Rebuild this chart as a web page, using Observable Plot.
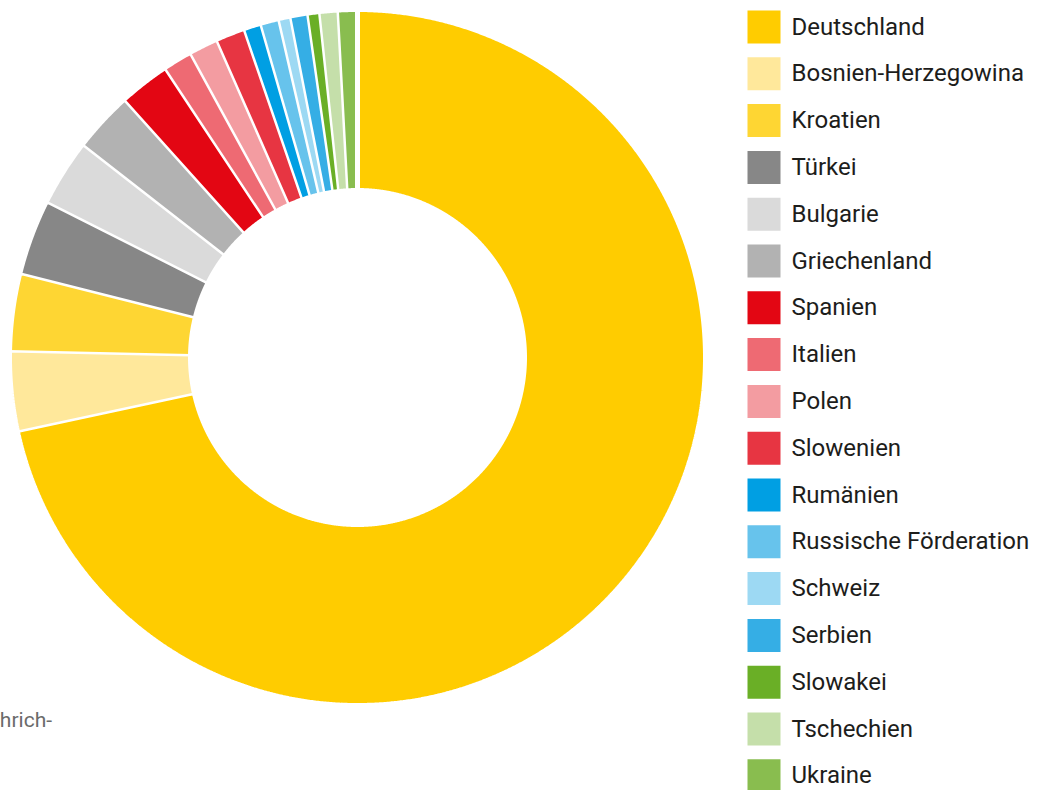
<!DOCTYPE html>
<html>
<head>
<meta charset="utf-8">
<script src="https://cdn.jsdelivr.net/npm/d3@7"></script>
<script src="https://cdn.jsdelivr.net/npm/@observablehq/plot@0.6"></script>
<style>
  html, body { margin: 0; padding: 0; background: #fff; overflow: hidden; }
  #wrap { position: relative; width: 1047px; height: 790px; }
  #donut { position: absolute; left: 0; top: 0; }
  #legend { position: absolute; left: 740px; top: 0; }
  #note { position: absolute; right: 995px; top: 710px; font: 21px Roboto, sans-serif; line-height: 21px; color: #6b6b6b; white-space: nowrap; }
  svg { display: block; }
</style>
</head>
<body>
<div id="wrap">
  <div id="donut"></div>
  <div id="legend"></div>
  <div id="note">hrich-</div>
</div>
<script>
// Data (shares in %)
const countries = ["Deutschland", "Bosnien-Herzegowina", "Kroatien", "Türkei", "Bulgarie", "Griechenland",
  "Spanien", "Italien", "Polen", "Slowenien", "Rumänien", "Russische Förderation", "Schweiz",
  "Serbien", "Slowakei", "Tschechien", "Ukraine"];
const shares = [71.6, 3.7, 3.6, 3.5, 3.1, 2.8, 2.35, 1.35, 1.35, 1.35, 0.8, 0.85, 0.55, 0.8, 0.55, 0.85, 0.85];
const colors = ["#FFCC00", "#FFE89B", "#FED633", "#878787", "#DADADA", "#B2B2B2",
  "#E30613", "#EE6A73", "#F39CA1", "#E73542", "#009FE3", "#67C3EC", "#9DD9F3",
  "#35AEE5", "#6AAF26", "#C5DFAA", "#89BD4F"];

const rows = countries.map((name, i) => ({name, value: shares[i], rank: i}));
const colorScale = {domain: countries, range: colors};

// Build donut slice outlines from the pie layout (unit radius coordinates)
const pie = d3.pie().value(d => d.value).sort(null);
const arcs = pie(rows);
const rOuter = 348 / 345, rInner = 167 / 345;
const pts = [];
for (const a of arcs) {
  const n = Math.max(2, Math.ceil((a.endAngle - a.startAngle) / (Math.PI / 720)));
  const name = a.data.name;
  for (let k = 0; k <= n; k++) {
    const t = a.startAngle + (a.endAngle - a.startAngle) * k / n;
    pts.push({name, x: rOuter * Math.sin(t), y: rOuter * Math.cos(t)});
  }
  for (let k = n; k >= 0; k--) {
    const t = a.startAngle + (a.endAngle - a.startAngle) * k / n;
    pts.push({name, x: rInner * Math.sin(t), y: rInner * Math.cos(t)});
  }
}

const donut = Plot.plot({
  width: 714, height: 714,
  marginLeft: 12, marginRight: 12, marginTop: 12, marginBottom: 12,
  x: {domain: [-1, 1], axis: null},
  y: {domain: [-1, 1], axis: null},
  color: colorScale,
  marks: [
    Plot.line(pts, {x: "x", y: "y", z: "name", fill: "name", stroke: "white", strokeWidth: 5, strokeLinejoin: "miter", curve: "linear"})
  ]
});
document.getElementById("donut").append(donut);

const legend = Plot.plot({
  width: 307, height: 790,
  marginLeft: 0, marginRight: 0, marginTop: 0, marginBottom: 0,
  style: {fontFamily: "Roboto, sans-serif", overflow: "visible"},
  y: {type: "linear", domain: [0, countries.length - 1], range: [26.5, 775.3], axis: null},
  color: colorScale,
  marks: [
    Plot.dot(rows, {y: "rank", fill: "name", symbol: "square", r: 18.62, frameAnchor: "left", dx: 23.5}),
    Plot.text(rows, {y: "rank", text: "name", frameAnchor: "left", dx: 51, textAnchor: "start", fontSize: 24, fill: "#1d1d1b", fontFamily: "Roboto, sans-serif"})
  ]
});
document.getElementById("legend").append(legend);
</script>
</body>
</html>
